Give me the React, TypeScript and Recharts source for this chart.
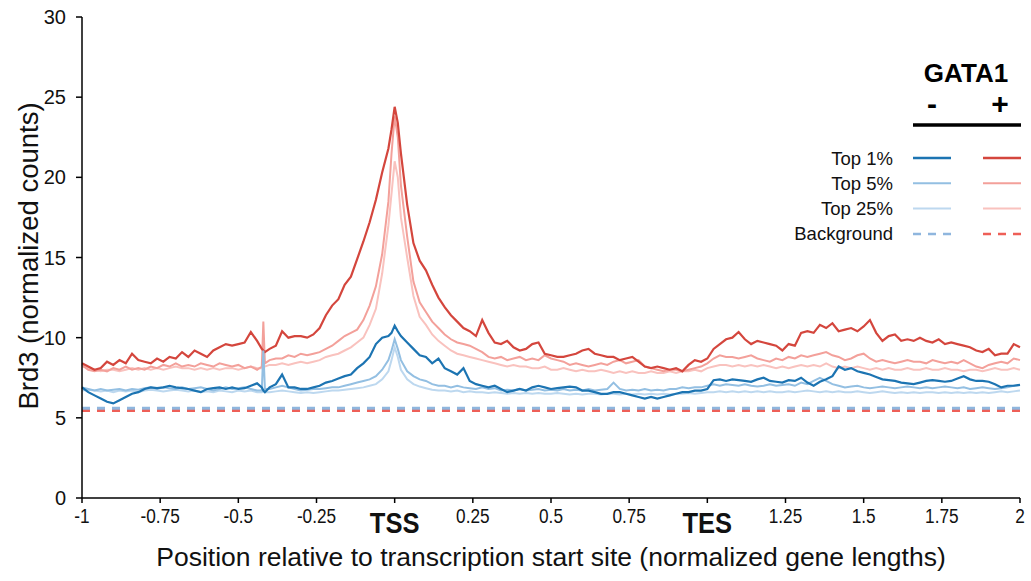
import React from 'react';
import { LineChart, Line, XAxis, YAxis, ReferenceLine } from 'recharts';

// Positions (normalized gene lengths); extra points around the spike at -0.42 and the TSS peak
const positions = [
  -1, -0.98, -0.96, -0.94, -0.92, -0.9, -0.88, -0.86, -0.84, -0.82,
  -0.8, -0.78, -0.76, -0.74, -0.72, -0.7, -0.68, -0.66, -0.64, -0.62,
  -0.6, -0.58, -0.56, -0.54, -0.52, -0.5, -0.48, -0.46, -0.44,
  -0.425, -0.42, -0.415,
  -0.4, -0.38, -0.36, -0.34, -0.32, -0.3, -0.28, -0.26, -0.24, -0.22,
  -0.2, -0.18, -0.16, -0.14, -0.12, -0.1, -0.08, -0.06, -0.04, -0.02,
  -0.01, 0, 0.01,
  0.02, 0.04, 0.06, 0.08, 0.1, 0.12, 0.14, 0.16, 0.18, 0.2,
  0.22, 0.24, 0.26, 0.28, 0.3, 0.32, 0.34, 0.36, 0.38, 0.4,
  0.42, 0.44, 0.46, 0.48, 0.5, 0.52, 0.54, 0.56, 0.58, 0.6,
  0.62, 0.64, 0.66, 0.68, 0.7, 0.72, 0.74, 0.76, 0.78, 0.8,
  0.82, 0.84, 0.86, 0.88, 0.9, 0.92, 0.94, 0.96, 0.98, 1.0,
  1.02, 1.04, 1.06, 1.08, 1.1, 1.12, 1.14, 1.16, 1.18, 1.2,
  1.22, 1.24, 1.26, 1.28, 1.3, 1.32, 1.34, 1.36, 1.38, 1.4,
  1.42, 1.44, 1.46, 1.48, 1.5, 1.52, 1.54, 1.56, 1.58, 1.6,
  1.62, 1.64, 1.66, 1.68, 1.7, 1.72, 1.74, 1.76, 1.78, 1.8,
  1.82, 1.84, 1.86, 1.88, 1.9, 1.92, 1.94, 1.96, 1.98, 2.0,
];

// GATA1 + (red)
const redTop1 = [
  8.4, 8.2, 8.0, 8.1, 8.5, 8.3, 8.6, 8.4, 9.0, 8.6,
  8.5, 8.4, 8.7, 8.5, 8.8, 8.7, 9.1, 8.8, 9.2, 9.0,
  8.8, 9.2, 9.4, 9.6, 9.5, 9.6, 9.7, 10.35, 9.8,
  9.3, 9.2, 9.1,
  9.3, 9.5, 10.4, 10.0, 10.1, 10.1, 10.0, 10.2, 10.6, 11.4,
  12.0, 12.4, 13.3, 13.8, 14.9, 16.0, 17.2, 18.6, 20.3, 21.8,
  23.0, 24.4, 23.4,
  21.5, 18.3, 15.9, 14.8, 14.2, 13.3, 12.5, 11.9, 11.4, 11.0,
  10.6, 10.4, 10.1, 11.1, 10.3, 9.7, 9.6, 9.8, 9.4, 9.2,
  9.3, 9.6, 9.7, 9.0, 8.9, 8.8, 8.8, 8.9, 9.0, 9.2,
  9.3, 9.0, 8.9, 8.8, 8.8, 8.6, 8.7, 8.8, 8.5, 8.2,
  8.1, 8.2, 8.1, 8.0, 8.1, 7.9, 8.3, 8.6, 8.5, 8.7,
  9.3, 9.6, 9.9, 10.0, 10.35, 9.9, 9.6, 9.8, 9.7, 9.6,
  9.5, 9.2, 9.6, 9.5, 10.3, 10.4, 10.3, 10.8, 10.6, 10.9,
  10.4, 10.5, 10.6, 10.4, 10.7, 11.1, 10.3, 9.8, 10.1, 10.2,
  9.8, 9.9, 9.8, 10.0, 9.8, 9.7, 9.9, 9.6, 9.7, 9.6,
  9.5, 9.4, 9.2, 9.1, 9.3, 8.9, 9.0, 9.0, 9.6, 9.4,
];

const redTop5 = [
  8.3, 8.0, 7.9, 8.0, 7.9, 8.1, 8.0, 8.2, 8.0, 8.1,
  8.0, 8.2, 8.1, 8.3, 8.2, 8.4, 8.2, 8.3, 8.2, 8.4,
  8.3, 8.2, 8.4, 8.3, 8.2, 8.3, 8.1, 8.2, 8.0,
  8.2, 11.0, 8.4,
  8.6, 8.7, 8.7, 8.9, 8.8, 9.0, 8.9, 9.0, 9.1, 9.3,
  9.5, 9.8, 10.1, 10.3, 10.5, 11.1, 12.0, 13.2, 15.2, 18.5,
  21.5, 23.8, 22.5,
  19.5, 16.3, 13.5, 12.2, 11.6, 11.0, 10.6, 10.2, 9.9, 9.7,
  9.6, 9.5, 9.3, 9.1, 8.8, 8.7, 8.8, 8.6, 8.7, 8.8,
  8.6, 8.7, 8.6, 8.9, 8.7, 8.6, 8.5, 8.3, 8.4, 8.3,
  8.2, 8.3, 8.4, 8.3, 8.5, 8.6, 8.4, 8.5, 8.6, 8.2,
  8.1, 8.0, 7.9, 8.0, 8.0, 7.9, 8.0, 8.1, 8.2, 8.4,
  8.7, 8.9, 8.8, 8.8, 8.7, 8.8, 8.9, 8.7, 8.6, 8.5,
  8.7, 8.6, 8.8, 8.7, 8.9, 8.8, 8.9, 9.0, 9.1, 8.9,
  8.8, 8.6, 8.7, 8.9, 9.0, 8.7, 8.5, 8.6, 8.5, 8.4,
  8.5, 8.6, 8.5, 8.5, 8.4, 8.6, 8.5, 8.4, 8.5, 8.4,
  8.6, 8.4, 8.2, 8.1, 8.3, 8.4, 8.5, 8.4, 8.7, 8.6,
];

const redTop25 = [
  8.2, 8.1, 8.0, 7.9, 8.0, 8.0, 7.9, 8.0, 8.1, 8.0,
  8.1, 8.0, 8.1, 8.0, 8.1, 8.2, 8.1, 8.1, 8.0, 8.1,
  8.0, 8.1, 8.0, 8.1, 8.1, 8.0, 8.1, 8.2, 8.1,
  8.1, 8.2, 8.2,
  8.3, 8.3, 8.4, 8.3, 8.4, 8.5, 8.4, 8.5, 8.6, 8.8,
  8.9, 9.0, 9.2, 9.4, 9.7, 10.0, 10.8, 11.8, 14.0, 17.0,
  19.0, 21.0, 20.0,
  17.5, 15.0, 12.6, 11.3, 10.8, 10.2, 9.8, 9.5, 9.2, 9.0,
  8.9, 8.8, 8.7, 8.6, 8.5, 8.4, 8.3, 8.2, 8.3, 8.2,
  8.2, 8.1, 8.1, 8.2, 8.0, 8.0, 8.1, 8.0, 7.9, 8.0,
  7.9, 7.9, 8.0, 7.9, 7.8, 7.9, 7.8, 7.9, 7.8, 7.8,
  7.9, 7.8, 7.8, 7.9, 7.8, 7.9, 7.9, 8.0, 7.9, 8.1,
  8.2, 8.3, 8.3, 8.2, 8.3, 8.2, 8.3, 8.2, 8.3, 8.2,
  8.1, 8.2, 8.1, 8.2, 8.3, 8.2, 8.3, 8.2, 8.4, 8.2,
  8.1, 8.2, 8.1, 8.2, 8.1, 8.0, 8.1, 8.0, 8.1, 8.0,
  8.0, 8.1, 8.0, 8.0, 8.1, 8.0, 8.0, 8.1, 8.0, 8.0,
  7.9, 8.0, 8.0, 7.9, 8.0, 8.1, 8.0, 8.0, 8.1, 8.0,
];

// GATA1 - (blue)
const blueTop1 = [
  6.9, 6.6, 6.4, 6.2, 6.0, 5.9, 6.1, 6.3, 6.5, 6.6,
  6.8, 6.9, 6.85, 6.9, 7.0, 6.9, 6.85, 6.8, 6.7, 6.6,
  6.8, 6.85, 6.9, 6.8, 6.9, 6.8, 6.85, 7.0, 7.15,
  6.9, 6.7, 6.6,
  6.9, 7.1, 7.7, 6.9, 6.9, 6.8, 6.8, 6.9, 7.0, 7.2,
  7.3, 7.45, 7.6, 7.7, 8.1, 8.4, 8.8, 9.6, 10.0, 10.1,
  10.3, 10.75, 10.4,
  10.1, 9.7, 9.3, 8.9, 8.8, 8.4, 8.7, 8.1, 7.9, 7.7,
  8.1, 7.3, 7.1, 7.0, 6.9, 7.0, 6.8, 6.6, 6.7, 6.8,
  6.7, 6.9, 7.0, 6.9, 6.8, 6.85, 6.9, 6.95, 6.9, 6.7,
  6.7, 6.6, 6.5, 6.5, 6.6, 6.6, 6.5, 6.4, 6.3, 6.2,
  6.3, 6.2, 6.3, 6.4, 6.5, 6.6, 6.6, 6.7, 6.7, 6.8,
  7.35, 7.4, 7.3, 7.4, 7.35, 7.3, 7.25, 7.4, 7.5, 7.3,
  7.25, 7.2, 7.35, 7.3, 7.5, 7.2, 7.0, 7.25, 7.4, 7.6,
  8.2, 8.0, 8.1, 7.9, 7.8, 7.7, 7.55, 7.4, 7.35, 7.3,
  7.2, 7.15, 7.1, 7.2, 7.3, 7.35, 7.3, 7.25, 7.3, 7.45,
  7.6, 7.4, 7.3, 7.3, 7.25, 7.1, 6.9, 7.0, 7.0, 7.05,
];

const blueTop5 = [
  6.9, 6.8, 6.7, 6.8, 6.7, 6.75, 6.8, 6.7, 6.8, 6.75,
  6.85, 6.9, 6.8, 6.9, 6.85, 6.8, 6.9, 6.8, 6.85, 6.9,
  6.8, 6.7, 6.8, 6.9, 6.8, 6.85, 6.9, 6.8, 6.7,
  6.7, 9.2, 6.8,
  6.8, 6.9, 7.0, 6.9, 6.8, 6.7, 6.75, 6.8, 6.8, 6.85,
  6.9, 6.9, 7.0, 7.1, 7.2, 7.3, 7.4, 7.6, 8.0, 8.6,
  9.2, 9.9, 9.3,
  8.6, 7.9, 7.6, 7.4, 7.3, 7.1, 7.0, 7.0, 6.9, 7.0,
  6.9, 6.85, 6.8, 6.9, 6.8, 6.85, 6.7, 6.75, 6.7, 6.8,
  6.7, 6.75, 6.8, 6.7, 6.75, 6.7, 6.8, 6.7, 6.75, 6.7,
  6.8, 6.7, 6.75, 6.8, 7.2, 6.8, 6.7, 6.75, 6.7, 6.8,
  6.7, 6.75, 6.7, 6.8, 6.8, 6.9, 6.85, 6.9, 6.9, 7.0,
  7.1, 7.0, 7.1, 7.05, 7.0, 7.1, 7.0, 6.95, 7.0, 7.1,
  7.0, 7.05, 7.1, 7.0, 7.2, 7.1, 7.3, 7.5, 7.3, 7.1,
  7.0, 6.9, 6.95, 7.0, 6.9, 6.85, 6.9, 6.95, 6.9, 6.85,
  6.9, 6.95, 6.9, 6.85, 6.9, 6.85, 6.9, 6.95, 6.9, 6.85,
  6.9, 6.8, 6.85, 6.9, 6.85, 6.8, 6.85, 6.9, 7.0, 7.05,
];

const blueTop25 = [
  6.7, 6.75, 6.7, 6.65, 6.7, 6.6, 6.7, 6.65, 6.7, 6.6,
  6.7, 6.75, 6.7, 6.65, 6.7, 6.75, 6.7, 6.65, 6.7, 6.6,
  6.65, 6.6, 6.7, 6.65, 6.6, 6.7, 6.65, 6.7, 6.6,
  6.6, 6.65, 6.6,
  6.6, 6.65, 6.7, 6.65, 6.6, 6.55, 6.6, 6.55, 6.6, 6.65,
  6.7, 6.7, 6.75, 6.8, 6.85, 6.9, 7.0, 7.1, 7.4, 7.9,
  8.6, 9.4, 8.8,
  8.0, 7.4, 7.1, 6.95, 6.85, 6.75, 6.7, 6.7, 6.65, 6.7,
  6.6, 6.65, 6.6, 6.6, 6.55, 6.6, 6.55, 6.5, 6.55, 6.5,
  6.55, 6.5, 6.55, 6.5, 6.5, 6.55, 6.5, 6.45, 6.5, 6.45,
  6.5, 6.5, 6.45, 6.5, 6.5, 6.45, 6.5, 6.45, 6.5, 6.45,
  6.5, 6.45, 6.5, 6.45, 6.5, 6.5, 6.55, 6.5, 6.55, 6.6,
  6.6, 6.65, 6.6, 6.65, 6.6, 6.65, 6.6, 6.65, 6.6, 6.65,
  6.6, 6.6, 6.65, 6.6, 6.65, 6.7, 6.65, 6.6, 6.65, 6.6,
  6.65, 6.6, 6.6, 6.65, 6.6, 6.55, 6.6, 6.65, 6.6, 6.55,
  6.6, 6.55, 6.6, 6.55, 6.6, 6.6, 6.55, 6.6, 6.55, 6.6,
  6.55, 6.6, 6.55, 6.6, 6.55, 6.6, 6.65, 6.6, 6.65, 6.7,
];

// Background levels: [GATA1 -, GATA1 +]
const backgroundLevels = [5.6, 5.45];

const xTickValues = [-1, -0.75, -0.5, -0.25, 0, 0.25, 0.5, 0.75, 1, 1.25, 1.5, 1.75, 2];
const xTickLabels = ['-1', '-0.75', '-0.5', '-0.25', 'TSS', '0.25', '0.5', '0.75', 'TES', '1.25', '1.5', '1.75', '2'];
const yTickValues = [0, 5, 10, 15, 20, 25, 30];

const legendRows = ['Top 1%', 'Top 5%', 'Top 25%', 'Background'];

const COLORS = {
  blue1: '#1c74b2',
  blue5: '#93bfe2',
  blue25: '#bdd8ef',
  blueBg: '#8fb6de',
  red1: '#d4463d',
  red5: '#f3a09a',
  red25: '#f9c2be',
  redBg: '#ee5f57',
};

const legendStyles = [
  { neg: COLORS.blue1, pos: COLORS.red1, w: 2.5, dash: undefined },
  { neg: COLORS.blue5, pos: COLORS.red5, w: 2, dash: undefined },
  { neg: COLORS.blue25, pos: COLORS.red25, w: 2, dash: undefined },
  { neg: COLORS.blueBg, pos: COLORS.redBg, w: 2.5, dash: '8 7' },
];

const data = positions.map((p, i) => ({
  pos: p,
  r1: redTop1[i],
  r5: redTop5[i],
  r25: redTop25[i],
  b1: blueTop1[i],
  b5: blueTop5[i],
  b25: blueTop25[i],
}));

const FONT = "'Liberation Sans', Arial, sans-serif";

const XTick = (props: any) => {
  const { x, y, payload } = props;
  const idx = xTickValues.indexOf(payload.value);
  const label = idx >= 0 ? xTickLabels[idx] : String(payload.value);
  const big = label === 'TSS' || label === 'TES';
  return (
    <text
      transform={`translate(${x},${big ? y + 25 : y + 14.5}) scale(${big ? 0.88 : 0.84},1)`}
      textAnchor="middle"
      fontFamily={FONT}
      fontSize={big ? 29 : 20.5}
      fontWeight={big ? 'bold' : 'normal'}
      fill="#111"
    >
      {label}
    </text>
  );
};

export default function App() {
  return (
    <div style={{ position: 'absolute', left: 0, top: 0, width: 1031, height: 581, background: '#fff' }}>
      <LineChart
        width={1031}
        height={581}
        data={data}
        margin={{ top: 17, right: 11, left: 0, bottom: 0 }}
      >
        <XAxis
          dataKey="pos"
          type="number"
          domain={[-1, 2]}
          ticks={xTickValues}
          interval={0}
          height={83}
          tickSize={5}
          tickMargin={5}
          stroke="#000"
          strokeWidth={1.5}
          tick={<XTick />}
        />
        <YAxis
          type="number"
          domain={[0, 30]}
          ticks={yTickValues}
          interval={0}
          width={82}
          tickSize={6}
          tickMargin={10}
          stroke="#000"
          strokeWidth={1.5}
          tick={{ fill: '#111', fontSize: 20, fontFamily: FONT }}
        />
        <ReferenceLine y={backgroundLevels[1]} stroke={COLORS.redBg} strokeWidth={3} strokeDasharray="8 7" />
        <ReferenceLine y={backgroundLevels[0]} stroke={COLORS.blueBg} strokeWidth={3} strokeDasharray="8 7" />
        <Line dataKey="r25" type="linear" stroke={COLORS.red25} strokeWidth={2} dot={false} isAnimationActive={false} />
        <Line dataKey="r5" type="linear" stroke={COLORS.red5} strokeWidth={2} dot={false} isAnimationActive={false} />
        <Line dataKey="r1" type="linear" stroke={COLORS.red1} strokeWidth={2.2} dot={false} isAnimationActive={false} />
        <Line dataKey="b25" type="linear" stroke={COLORS.blue25} strokeWidth={2} dot={false} isAnimationActive={false} />
        <Line dataKey="b5" type="linear" stroke={COLORS.blue5} strokeWidth={2} dot={false} isAnimationActive={false} />
        <Line dataKey="b1" type="linear" stroke={COLORS.blue1} strokeWidth={2.2} dot={false} isAnimationActive={false} />
      </LineChart>
      <svg
        width={1031}
        height={581}
        style={{ position: 'absolute', left: 0, top: 0, pointerEvents: 'none' }}
      >
        <text
          x={0}
          y={0}
          transform="translate(38,256) rotate(-90)"
          textAnchor="middle"
          fontFamily={FONT}
          fontSize={27.5}
          fill="#111"
        >
          Brd3 (normalized counts)
        </text>
        <text x={551} y={566} textAnchor="middle" fontFamily={FONT} fontSize={26.5} fill="#111">
          Position relative to transcription start site (normalized gene lengths)
        </text>
        <text x={966} y={82} textAnchor="middle" fontFamily={FONT} fontSize={26} fontWeight="bold" fill="#000">
          GATA1
        </text>
        <text x={932} y={114} textAnchor="middle" fontFamily={FONT} fontSize={30} fontWeight="bold" fill="#000">
          -
        </text>
        <text x={1000} y={114} textAnchor="middle" fontFamily={FONT} fontSize={30} fontWeight="bold" fill="#000">
          +
        </text>
        <line x1={913} x2={1021} y1={125} y2={125} stroke="#000" strokeWidth={3.5} />
        {legendRows.map((label, i) => {
          const cy = 158 + i * 25.3;
          const s = legendStyles[i];
          return (
            <g key={label}>
              <text x={893} y={cy + 6.5} textAnchor="end" fontFamily={FONT} fontSize={18.5} fill="#111">
                {label}
              </text>
              <line x1={913} x2={951} y1={cy} y2={cy} stroke={s.neg} strokeWidth={s.w} strokeDasharray={s.dash} />
              <line x1={983} x2={1021} y1={cy} y2={cy} stroke={s.pos} strokeWidth={s.w} strokeDasharray={s.dash} />
            </g>
          );
        })}
      </svg>
    </div>
  );
}
